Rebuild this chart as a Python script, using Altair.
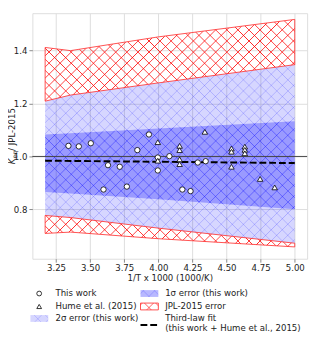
import math
import altair as alt
import pandas as pd

# ---------------- data ----------------
circle_x = [3.341, 3.417, 3.505, 3.598, 3.631, 3.717, 3.769, 3.846, 3.931, 3.996,
            3.996, 4.081, 4.176, 4.236, 4.289, 4.347]
circle_y = [1.040, 1.038, 1.050, 0.875, 0.967, 0.961, 0.886, 1.024, 1.083, 0.996,
            0.947, 1.001, 0.875, 0.869, 0.977, 0.982]
tri_x = [3.996, 3.996, 4.156, 4.156, 4.156, 4.156, 4.341, 4.536, 4.536, 4.536,
         4.634, 4.634, 4.634, 4.746, 4.853]
tri_y = [1.054, 0.984, 1.040, 1.024, 0.989, 0.971, 1.093, 1.030, 1.018, 0.961,
         1.037, 1.025, 1.012, 0.915, 0.883]

band_x = [3.17, 3.356, 4.0, 5.0]
jpl_hi = [1.412, 1.400, 1.452, 1.518]
jpl_lo = [0.709, 0.714, 0.689, 0.658]
sig2_hi = [1.209, 1.232, 1.278, 1.347]
sig2_lo = [0.777, 0.769, 0.729, 0.672]
sig1_hi = [1.083, 1.088, 1.106, 1.133]
sig1_lo = [0.866, 0.860, 0.838, 0.800]

fit_x = [3.17, 5.0]
fit_y = [0.984, 0.975]

x_ticks = [3.25, 3.50, 3.75, 4.00, 4.25, 4.50, 4.75, 5.00]
y_ticks = [0.8, 1.0, 1.2, 1.4]

legend_labels = ["This work", "Hume et al. (2015)", "2σ error (this work)",
                 "1σ error (this work)", "JPL-2015 error", "Third-law fit",
                 "(this work + Hume et al., 2015)"]

# ---------------- layout ----------------
W, H = 282, 252
XD = [3.0764, 5.0907]
YD = [0.6133, 0.6133 + H / 271.5]
FONT = "DejaVu Sans"
FS = 8.8
TXT = "#222222"


def xs(v):
    return (v - XD[0]) / (XD[1] - XD[0]) * W


def ys(v):
    return H - (v - YD[0]) / (YD[1] - YD[0]) * H


def hatch(X0, Y0, Wb, Hb, rgb, alpha, direction, period=11.4, hw=0.9):
    L = Wb + Hb
    k = L / (Wb * Wb + Hb * Hb)
    if direction == "a":
        x1, y1, x2, y2 = 0, 0, k * Wb, k * Hb
        base = X0 + Y0
    else:
        x1, y1, x2, y2 = 0, 1, k * Wb, 1 - k * Hb
        base = X0 - Y0 - Hb
    col = f"rgba({rgb},{alpha})"
    clr = f"rgba({rgb},0)"
    stops = [alt.GradientStop(offset=0, color=clr)]
    n = math.ceil((base + hw) / period)
    while True:
        c = period * n - base
        if c + hw > L:
            break
        if c - hw >= 0:
            stops += [alt.GradientStop(offset=(c - hw) / L, color=clr),
                      alt.GradientStop(offset=c / L, color=col),
                      alt.GradientStop(offset=(c + hw) / L, color=clr)]
        n += 1
    stops.append(alt.GradientStop(offset=1, color=clr))
    return alt.LinearGradient(gradient="linear", stops=stops, x1=x1, y1=y1, x2=x2, y2=y2)


def bbox(lo, hi):
    X0 = xs(min(band_x))
    Wb = xs(max(band_x)) - X0
    Y0 = ys(max(hi))
    Hb = ys(min(lo)) - Y0
    return X0, Y0, Wb, Hb


xscale = alt.Scale(domain=XD, nice=False, zero=False)
yscale = alt.Scale(domain=YD, nice=False, zero=False)
xaxis = alt.Axis(values=x_ticks, format=".2f", grid=True, gridColor="#dddddd", gridWidth=1,
                 domain=False, tickColor="#888888", tickSize=3.5, labelFontSize=FS,
                 labelColor=TXT, labelPadding=1.5, title="1/T x 1000 (1000/K)",
                 titleFontSize=FS, titleFontWeight="normal", titleColor=TXT, titlePadding=2,
                 labelFont=FONT, titleFont=FONT)
yaxis = alt.Axis(values=y_ticks, format=".1f", grid=True, gridColor="#dddddd", gridWidth=1,
                 domain=False, tickColor="#888888", tickSize=3.5, labelFontSize=FS,
                 labelColor=TXT, labelPadding=2, title=None, labelFont=FONT)


def X(f="x"):
    return alt.X(f"{f}:Q", scale=xscale, axis=xaxis)


def Y(f):
    return alt.Y(f"{f}:Q", scale=yscale, axis=yaxis)


bands = pd.DataFrame({"x": band_x, "jhi": jpl_hi, "jlo": jpl_lo, "s2hi": sig2_hi,
                      "s2lo": sig2_lo, "s1hi": sig1_hi, "s1lo": sig1_lo})
base = alt.Chart(bands)

layers = []
# 2 sigma band
layers.append(base.mark_area(fill="#0000ff", fillOpacity=0.16).encode(x=X(), y=Y("s2lo"), y2="s2hi"))
bb = bbox(sig2_lo, sig2_hi)
for d in "ab":
    layers.append(base.mark_area(fill=hatch(*bb, "0,0,255", 0.2, d)).encode(x=X(), y=Y("s2lo"), y2="s2hi"))
# 1 sigma band
layers.append(base.mark_area(fill="#0000ff", fillOpacity=0.28).encode(x=X(), y=Y("s1lo"), y2="s1hi"))
bb = bbox(sig1_lo, sig1_hi)
for d in "ab":
    layers.append(base.mark_area(fill=hatch(*bb, "0,0,255", 0.24, d)).encode(x=X(), y=Y("s1lo"), y2="s1hi"))
# JPL red hatched regions
for lo, hi, flo, fhi in [(sig2_hi, jpl_hi, "s2hi", "jhi"), (jpl_lo, sig2_lo, "jlo", "s2lo")]:
    bb = bbox(lo, hi)
    layers.append(base.mark_area(fill=hatch(*bb, "255,0,0", 0.85, "a")).encode(x=X(), y=Y(flo), y2=fhi))
    layers.append(base.mark_area(fill=hatch(*bb, "255,0,0", 0.85, "b"), stroke="#ff3030",
                                 strokeWidth=1, strokeOpacity=0.85).encode(x=X(), y=Y(flo), y2=fhi))

# reference line at 1
layers.append(alt.Chart(pd.DataFrame({"y": [1.0]})).mark_rule(color="#444444", strokeWidth=1).encode(
    y=Y("y"), x=alt.value(0), x2=alt.value(W)))
# third-law fit
layers.append(alt.Chart(pd.DataFrame({"x": fit_x, "f": fit_y})).mark_line(
    color="black", strokeWidth=2, strokeDash=[7, 3]).encode(x=X(), y=Y("f")))
# points
layers.append(alt.Chart(pd.DataFrame({"x": circle_x, "c": circle_y})).mark_point(
    shape="circle", filled=True, fill="white", stroke="black", strokeWidth=0.8, size=30,
    opacity=1).encode(x=X(), y=Y("c")))
layers.append(alt.Chart(pd.DataFrame({"x": tri_x, "t": tri_y})).mark_point(
    shape="triangle-up", filled=True, fill="white", stroke="black", strokeWidth=0.8, size=32,
    opacity=1).encode(x=X(), y=Y("t")))

one = pd.DataFrame({"k": [0]})


def text(label, x, y, size=FS, angle=0, style="normal", align="left", baseline="middle"):
    return alt.Chart(one).mark_text(text=label, font=FONT, fontSize=size, color=TXT, angle=angle,
                                    fontStyle=style, align=align, baseline=baseline).encode(
        x=alt.value(x), y=alt.value(y))


# y-axis title  K_eq / JPL-2015
layers.append(text("K", -17.6, 155, angle=270, style="italic", baseline="alphabetic"))
layers.append(text("eq", -15.9, 149.2, size=6.4, angle=270, baseline="alphabetic"))
layers.append(text(" / JPL-2015", -17.6, 141.3, angle=270, baseline="alphabetic"))

# legend
r1, r2, r3 = 287.7, 301.0, 313.3
layers.append(alt.Chart(one).mark_point(shape="circle", filled=True, fill="white", stroke="black",
                                        strokeWidth=0.8, size=24, opacity=1).encode(
    x=alt.value(7), y=alt.value(r1)))
layers.append(alt.Chart(one).mark_point(shape="triangle-up", filled=True, fill="white", stroke="black",
                                        strokeWidth=0.8, size=24, opacity=1).encode(
    x=alt.value(7), y=alt.value(r2)))


def patch(x0, x1, yc, fill=None, fop=1.0, rgb=None, alpha=None, stroke=None):
    out = []
    enc = dict(x=alt.value(x0), x2=alt.value(x1), y=alt.value(yc - 3.5), y2=alt.value(yc + 3.5))
    if fill:
        out.append(alt.Chart(one).mark_rect(fill=fill, fillOpacity=fop).encode(**enc))
    for d in "ab":
        kw = {}
        if stroke and d == "b":
            kw = dict(stroke=stroke, strokeWidth=1, strokeOpacity=0.85)
        out.append(alt.Chart(one).mark_rect(
            fill=hatch(x0, yc - 3.5, x1 - x0, 7, rgb, alpha, d, hw=0.8), **kw).encode(**enc))
    return out


layers += patch(-2, 16.3, r3, fill="#0000ff", fop=0.16, rgb="0,0,255", alpha=0.2)
layers += patch(111, 129.3, r1, fill="#0000ff", fop=0.28, rgb="0,0,255", alpha=0.24)
layers += patch(111, 129.3, r2, rgb="255,0,0", alpha=0.85, stroke="#ff3030")
layers.append(alt.Chart(one).mark_rule(color="black", strokeWidth=2, strokeDash=[7, 3]).encode(
    x=alt.value(111), x2=alt.value(129), y=alt.value(320)))

layers.append(text(legend_labels[0], 23.7, r1))
layers.append(text(legend_labels[1], 23.7, r2))
layers.append(text(legend_labels[2], 23.7, r3))
layers.append(text(legend_labels[3], 136.3, r1))
layers.append(text(legend_labels[4], 136.3, r2))
layers.append(text(legend_labels[5], 136.3, 312.7))
layers.append(text(legend_labels[6], 136.3, 323.3))

chart = alt.layer(*layers).properties(
    width=W, height=H, autosize="none",
    padding={"left": 25, "top": 1, "right": 5, "bottom": 77},
).configure_view(stroke="#999999", strokeWidth=1).configure(font=FONT)

chart.save("out.html", embed_options={"renderer": "svg", "actions": False})
